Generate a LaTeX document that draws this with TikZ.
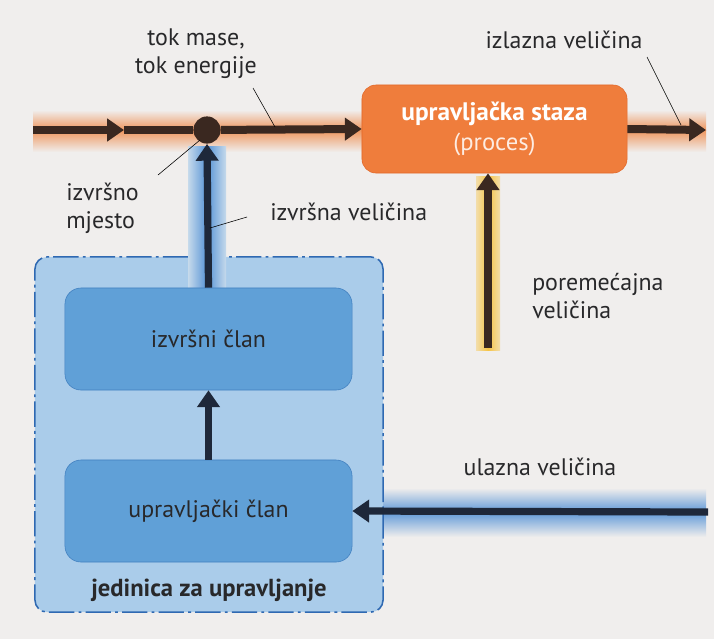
\documentclass[tikz,border=0pt]{standalone}
\usepackage{fontspec}
\setmainfont{PT Sans}
\usepackage{xcolor}
\usepackage{tikz}
\usetikzlibrary{shapes.geometric, arrows, arrows.meta, positioning, calc}

\definecolor{paper}{RGB}{240,238,237}
\definecolor{flowdark}{RGB}{58,40,32}
\definecolor{navy}{RGB}{30,40,58}
\definecolor{procorange}{RGB}{239,125,60}
\definecolor{procedge}{RGB}{226,104,42}
\definecolor{glowor}{RGB}{238,128,58}
\definecolor{glowyel}{RGB}{246,196,70}
\definecolor{glowblue}{RGB}{70,138,212}
\definecolor{unitfill}{RGB}{170,204,234}
\definecolor{unitedge}{RGB}{47,105,178}
\definecolor{memberfill}{RGB}{96,160,215}
\definecolor{memberedge}{RGB}{66,128,192}
\definecolor{txt}{RGB}{40,40,42}

\tikzstyle{process} = [rectangle, rounded corners=0.35cm, minimum width=6.625cm, minimum height=2.2cm, text centered, draw=procedge, fill=procorange, text=white, align=center]
\tikzstyle{member} = [rectangle, rounded corners=0.4cm, minimum width=7.175cm, minimum height=2.55cm, text centered, draw=memberedge, fill=memberfill, text=txt, font=\fontsize{17}{20}\selectfont]
\tikzstyle{unitbox} = [rectangle, rounded corners=0.3cm, minimum width=8.7cm, minimum height=8.875cm, draw=unitedge, line width=1.1pt, fill=unitfill, dash pattern=on 18pt off 3pt on 2pt off 3pt]
\tikzstyle{caption} = [text=txt, font=\fontsize{17}{20}\selectfont, inner sep=0pt]
\tikzstyle{flow} = [line width=0.2cm, draw=flowdark]
\tikzstyle{signal} = [line width=0.18cm, draw=navy]
\tikzstyle{arrow} = [-{Triangle[length=0.42cm,width=0.55cm]}]
\tikzstyle{pointer} = [thin, draw=black]

\begin{document}
\begin{tikzpicture}[x=0.025cm, y=-0.025cm]
            \useasboundingbox (0,0) rectangle (714,639);
            \fill[paper] (0,0) rectangle (714,639);

            % Free ends
            \coordinate (flowin) at (33,130);
            \coordinate (flowmid) at (124,130);
            \coordinate (flowout) at (706,130);
            \coordinate (disturb) at (488,348);
            \coordinate (setpoint) at (708,512);

            % Glow bands
            \shade[top color=paper, bottom color=glowor!80!paper] (33,110) rectangle (706,130);
            \shade[top color=glowor!80!paper, bottom color=paper] (33,130) rectangle (706,152);
            \shade[top color=paper, bottom color=glowblue!85!paper] (360,488) rectangle (706,512);
            \shade[top color=glowblue!85!paper, bottom color=paper] (360,512) rectangle (706,537);
            \shade[left color=glowyel!40!paper, right color=glowyel] (476,176) rectangle (488,350);
            \shade[left color=glowyel, right color=glowyel!40!paper] (488,176) rectangle (500,350);

            % Control unit
            \node (unit) [unitbox] at (209,434.5) {};
            \node (jedinica) [caption, font=\fontsize{17.5}{20}\selectfont\bfseries] at (209,590) {jedinica za upravljanje};

            \shade[left color=unitfill!60!paper, right color=glowblue!90!paper] (188,146) rectangle (207,290);
            \shade[left color=glowblue!90!paper, right color=unitfill!60!paper] (207,146) rectangle (226,290);

            \node (izvrsni) [member] at (208.5,339) {izvršni član};
            \node (upravljacki) [member] at (208.5,511) {upravljački član};

            % Process
            \node (proces) [process] at (494.5,129) {{\fontsize{18}{22}\selectfont\bfseries upravljačka staza}\\[4pt]{\fontsize{17.5}{21}\selectfont\color{white!85!procorange}(proces)}};
            \node (junction) [circle, fill=flowdark, minimum size=0.68cm, inner sep=0pt] at (207,130) {};

            % Arrows
            \draw [flow, arrow] (flowin) -- (flowmid);
            \draw [flow] (flowmid) -- (junction);
            \draw [flow, arrow] (junction) -- (proces.west);
            \draw [flow, arrow] (proces.east) -- (flowout);
            \draw [flow, arrow] (disturb) -- (proces.south -| disturb);
            \draw [signal, arrow] (izvrsni.north) -- (junction.south);
            \draw [signal, arrow] (upravljacki.north) -- (izvrsni.south);
            \draw [signal, arrow] (setpoint) -- (upravljacki.east);

            % Labels
            \node (tokmase) [caption, align=center] at (196,54) {tok mase,\\tok energije};
            \node (izlazna) [caption] at (564,40) {izlazna veličina};
            \node (mjesto) [caption, align=left, anchor=west] at (66,208) {izvršno\\mjesto};
            \node (izvrsnavel) [caption, anchor=west] at (270,212) {izvršna veličina};
            \node (poremecajna) [caption, align=left, anchor=west] at (532,296) {poremećajna\\veličina};
            \node (ulazna) [caption] at (540,467) {ulazna veličina};

            % Pointers
            \coordinate (tokA) at (253,88);
            \coordinate (tokB) at (275,127);
            \coordinate (izlA) at (647,57);
            \coordinate (izlB) at (681,125);
            \coordinate (mjA) at (158,175);
            \coordinate (mjB) at (200,140);
            \coordinate (ivA) at (247,217);
            \coordinate (ivB) at (210,228);
            \draw [pointer] (tokA) -- (tokB);
            \draw [pointer] (izlA) -- (izlB);
            \draw [pointer] (mjA) -- (mjB);
            \draw [pointer] (ivA) -- (ivB);
        \end{tikzpicture}
\end{document}
